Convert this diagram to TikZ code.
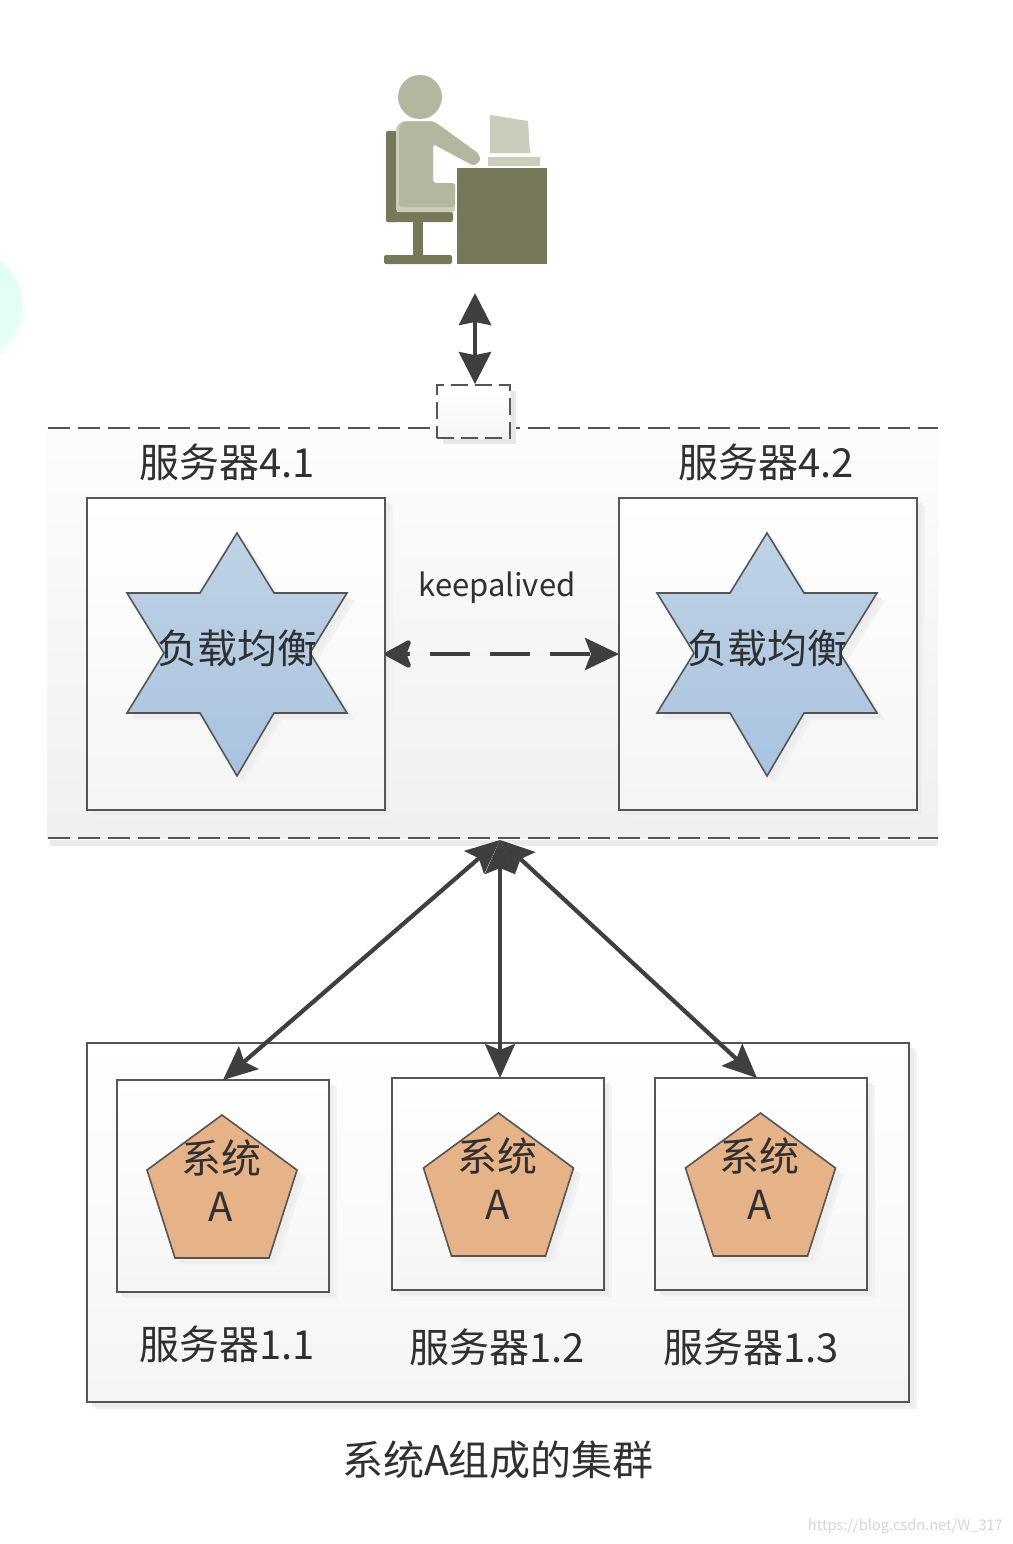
\documentclass[tikz,border=0pt]{standalone}
\usepackage{fontspec}
\setmainfont{Noto Sans CJK SC}
\usetikzlibrary{arrows.meta,shadows,positioning}
\definecolor{ink}{HTML}{3F3F3F}
\definecolor{txt}{HTML}{303030}
\definecolor{edge}{HTML}{555555}
\definecolor{deskc}{HTML}{77785A}
\definecolor{bodyc}{HTML}{B5B69F}
\definecolor{paperc}{HTML}{CBCCBA}
\definecolor{HexTop}{HTML}{BFD2E6}
\definecolor{HexBot}{HTML}{A9C3DF}
\definecolor{PentC}{HTML}{E6B287}
\definecolor{MintC}{HTML}{E3FFF4}
\tikzset{
  softshadow/.style={general shadow={fill=black!5,shadow xshift=8pt,shadow yshift=-7pt},
                     general shadow={fill=black!7,shadow xshift=5pt,shadow yshift=-5pt}},
  pagebox/.style={draw=edge,line width=1.8pt,top color=white,bottom color=black!4,softshadow,inner sep=0pt,outer sep=0pt},
  hexstar/.style={draw=edge,line width=1.6pt,top color=HexTop,bottom color=HexBot,softshadow},
  pentagonshape/.style={draw=edge,line width=1.6pt,fill=PentC,softshadow},
  label/.style={text=txt,font=\fontsize{40}{40}\selectfont,inner sep=0pt},
  smalllabel/.style={text=txt,font=\fontsize{40}{44}\selectfont,inner sep=0pt,align=center},
  dashrule/.style={draw=edge,line width=1.8pt,dash pattern=on 22pt off 8pt},
  link/.style={draw=ink,line width=4.4pt,{Stealth[length=32pt,width=32pt,inset=3pt]}-{Stealth[length=32pt,width=32pt,inset=3pt]}},
  biglink/.style={draw=ink,line width=4.2pt,{Stealth[length=34pt,width=30pt,inset=6pt]}-{Stealth[length=34pt,width=30pt,inset=6pt]}},
}
\begin{document}
\begin{tikzpicture}[x=1pt,y=-1pt]
\useasboundingbox (0,0) rectangle (1012,1544);
% decorative circle cut by the left edge
\begin{scope}
\clip (0,0) rectangle (1012,1544);
\fill[black!2] (-31,308) circle[radius=56];
\fill[MintC] (-33,305) circle[radius=55];
\end{scope}
% load balancer band
\node[minimum width=891pt,minimum height=410pt,inner sep=0pt,top color=black!1,bottom color=black!6] (band) at (492.5,633) {};
\fill[black!8] (50,840) rectangle (938,846);
\draw[dashrule] (48,428) -- (938,428);
\draw[dashrule] (48,838) -- (938,838);
\coordinate (apex) at (500,840);
% gate
\node[minimum width=73pt,minimum height=53pt,inner sep=0pt,top color=white,bottom color=black!4,
      general shadow={fill=black!9,shadow xshift=6pt,shadow yshift=-6pt},
      draw=edge,line width=1.8pt,dash pattern=on 17pt off 7pt] (gate) at (473.5,411.5) {};
% user figure
\node[minimum width=163pt,minimum height=190pt,inner sep=0pt] (user) at (465.5,170) {};
\fill[bodyc] (420,97) circle[radius=22];
\fill[paperc] (490,115) -- (528,121) -- (530,153) -- (490,153) -- cycle;
\fill[paperc] (488,157) rectangle (540,166);
\fill[deskc,rounded corners=2pt] (386,131) rectangle (397,222);
\fill[deskc,rounded corners=2pt] (386,212) rectangle (453,222);
\fill[deskc] (413,222) rectangle (423,256);
\fill[deskc,rounded corners=2pt] (384,255) rectangle (452,264);
\fill[deskc] (457,168) rectangle (547,264);
\fill[paperc,rounded corners=3pt] (396,212) -- (396,127) -- (402,121) -- (435,121) -- (433,125) -- (433,183) -- (455,183) -- (455,212) -- cycle;
\fill[bodyc,rounded corners=3pt] (399,207) -- (399,127) -- (403,122) -- (435,122) -- (478,153) -- (481,160) -- (474,166) -- (433,144) -- (433,183) -- (455,183) -- (455,207) -- cycle;
\coordinate (userport) at (475,293);
\draw[link] (userport) -- (gate.north -| userport);
% servers 4.x
\node[pagebox,minimum width=298pt,minimum height=312pt] (s41) at (236,654) {};
\node[pagebox,minimum width=298pt,minimum height=312pt] (s42) at (768,654) {};
\node[label] (s41t) at (227,462) {服务器4.1};
\node[label] (s42t) at (766,462) {服务器4.2};
\foreach \c/\n in {237/a,767/b}{
  \draw[hexstar] (\c,533) -- ++(37,60) -- ++(73,0) -- ++(-37,60) -- ++(37,60) -- ++(-73,0) -- ++(-37,63)
     -- ++(-37,-63) -- ++(-73,0) -- ++(37,-60) -- ++(-37,-60) -- ++(73,0) -- cycle;
  \node[label] (lb\n) at (\c,648) {负载均衡};
}
\node[text=txt,font=\fontsize{31}{31}\selectfont,inner sep=0pt] (ka) at (497,588) {keepalived};
\draw[draw=ink,line width=4.4pt,dash pattern=on 40pt off 20pt,dash phase=35pt,
      {Stealth[length=30pt,width=32pt,inset=6pt,round]}-{Stealth[length=34pt,width=32pt,inset=6pt]}]
      (s41.east) -- (s42.west);
% cluster
\node[pagebox,minimum width=822pt,minimum height=359pt] (cluster) at (498,1222.5) {};
\node[pagebox,minimum width=212pt,minimum height=212pt] (s11) at (223,1186) {};
\node[pagebox,minimum width=212pt,minimum height=212pt] (s12) at (498,1184) {};
\node[pagebox,minimum width=212pt,minimum height=212pt] (s13) at (761,1184) {};
\foreach \c/\t/\n in {222/1115/a,498.5/1113/b,760.5/1113/c}{
  \draw[pentagonshape] (\c,\t) -- ++(75,55) -- ++(-28,88) -- ++(-94,0) -- ++(-28,-88) -- cycle;
  \node[smalllabel] (sys\n) at (\c-1,\t+43) {系统};
  \node[smalllabel] (sysA\n) at (\c-1,\t+92) {A};
}
\node[label] (s11t) at (227,1344) {服务器1.1};
\node[label] (s12t) at (497,1347) {服务器1.2};
\node[label] (s13t) at (751,1347) {服务器1.3};
\node[label,font=\fontsize{41}{41}\selectfont] (clt) at (498,1460) {系统A组成的集群};
\draw[biglink] (apex) -- (s11.north);
\draw[biglink] (apex) -- (s12.north -| apex);
\draw[biglink] (apex) -- ([xshift=-4pt]s13.north);
\node[text=black!17,font=\fontsize{14.6}{15}\selectfont,inner sep=0pt,anchor=east] (wm) at (1003,1526) {https://blog.csdn.net/W\_317};
\end{tikzpicture}
\end{document}
